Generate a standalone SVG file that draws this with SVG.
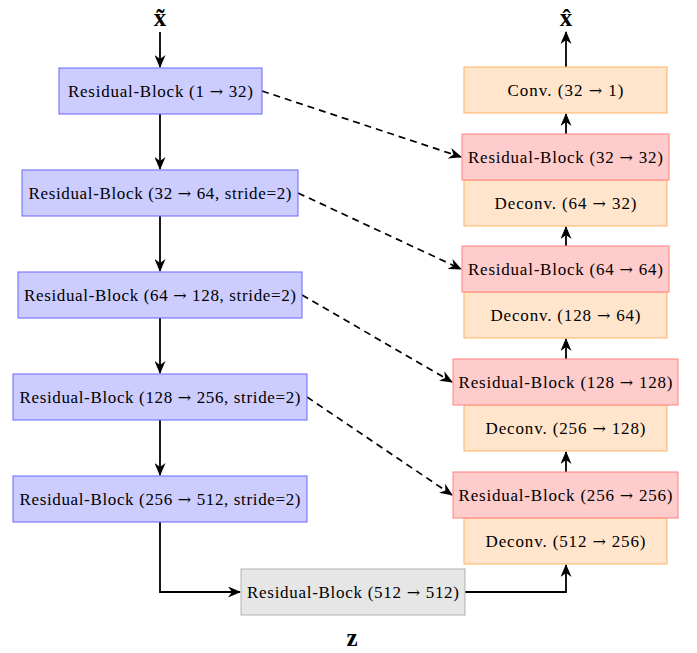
<svg xmlns="http://www.w3.org/2000/svg" width="697" height="653" viewBox="0 0 697 653">
<defs>
<style>
text{font-family:"Liberation Serif","Times New Roman",serif;font-size:17px;fill:#000;text-anchor:middle;dominant-baseline:central}
.ar{font-family:"DejaVu Serif",serif;font-size:16px}
.sym{font-size:25px;font-weight:bold}
.blue{fill:#ccccff;stroke:#6666ff;stroke-width:1}
.red{fill:#ffcccc;stroke:#ff8080;stroke-width:1}
.orange{fill:#ffe5cc;stroke:#ffb366;stroke-width:1}
.gray{fill:#e6e6e6;stroke:#b3b3b3;stroke-width:1}
.c{fill:none;stroke:#000;stroke-width:1.8}
.d{fill:none;stroke:#000;stroke-width:1.7;stroke-dasharray:7,5}
</style>
<marker id="ah" viewBox="0 0 13 11" refX="12" refY="5.5" markerWidth="13" markerHeight="11" markerUnits="userSpaceOnUse" orient="auto">
<path d="M0,0 L13,5.5 L0,11 L4,5.5 Z" fill="#000"/>
</marker>
</defs>
<rect width="697" height="653" fill="#fff"/>
<g id="connectors">
<line class="c" x1="160" y1="32" x2="160" y2="67" marker-end="url(#ah)"/>
<line class="c" x1="160" y1="114" x2="160" y2="169" marker-end="url(#ah)"/>
<line class="c" x1="160" y1="216" x2="160" y2="271" marker-end="url(#ah)"/>
<line class="c" x1="160" y1="318" x2="160" y2="373" marker-end="url(#ah)"/>
<line class="c" x1="160" y1="420" x2="160" y2="475" marker-end="url(#ah)"/>
<polyline class="c" points="160,522 160,592 240,592" marker-end="url(#ah)"/>
<polyline class="c" points="465,592 566,592 566,565" marker-end="url(#ah)"/>
<line class="c" x1="566" y1="472" x2="566" y2="452" marker-end="url(#ah)"/>
<line class="c" x1="566" y1="359" x2="566" y2="339" marker-end="url(#ah)"/>
<line class="c" x1="566" y1="246" x2="566" y2="227" marker-end="url(#ah)"/>
<line class="c" x1="566" y1="134" x2="566" y2="114" marker-end="url(#ah)"/>
<line class="c" x1="566" y1="67" x2="566" y2="32" marker-end="url(#ah)"/>
<line class="d" x1="262" y1="91" x2="461" y2="157" marker-end="url(#ah)"/>
<line class="d" x1="298" y1="193" x2="461" y2="269" marker-end="url(#ah)"/>
<line class="d" x1="302" y1="295" x2="452" y2="382" marker-end="url(#ah)"/>
<line class="d" x1="307" y1="397" x2="452" y2="495" marker-end="url(#ah)"/>
</g>
<g id="xin"><text class="sym" x="160" y="17">x̃</text></g>
<g id="xout"><text class="sym" x="566" y="17">x̂</text></g>
<g id="zlabel"><text class="sym" x="352" y="637">z</text></g>
<g id="enc1"><rect class="blue" x="59" y="68" width="203" height="46"/><text x="160.5" y="91" textLength="185">Residual-Block (1 <tspan class="ar">→</tspan> 32)</text></g>
<g id="enc2"><rect class="blue" x="22" y="170" width="276" height="46"/><text x="160" y="193" textLength="263">Residual-Block (32 <tspan class="ar">→</tspan> 64, stride=2)</text></g>
<g id="enc3"><rect class="blue" x="18" y="272" width="284" height="46"/><text x="160" y="295" textLength="272">Residual-Block (64 <tspan class="ar">→</tspan> 128, stride=2)</text></g>
<g id="enc4"><rect class="blue" x="13" y="374" width="294" height="46"/><text x="160" y="397" textLength="281">Residual-Block (128 <tspan class="ar">→</tspan> 256, stride=2)</text></g>
<g id="enc5"><rect class="blue" x="13" y="476" width="294" height="46"/><text x="160" y="499" textLength="281">Residual-Block (256 <tspan class="ar">→</tspan> 512, stride=2)</text></g>
<g id="bottleneck"><rect class="gray" x="241" y="569" width="224" height="46"/><text x="353" y="592" textLength="212">Residual-Block (512 <tspan class="ar">→</tspan> 512)</text></g>
<g id="conv"><rect class="orange" x="464" y="67" width="203" height="46"/><text x="565.5" y="90" textLength="116">Conv. (32 <tspan class="ar">→</tspan> 1)</text></g>
<g id="dec1d"><rect class="orange" x="464" y="180" width="203" height="46"/><text x="565.5" y="203" textLength="142">Deconv. (64 <tspan class="ar">→</tspan> 32)</text></g>
<g id="dec1r"><rect class="red" x="462" y="134" width="207" height="46"/><text x="565.5" y="157" textLength="195">Residual-Block (32 <tspan class="ar">→</tspan> 32)</text></g>
<g id="dec2d"><rect class="orange" x="464" y="292" width="203" height="46"/><text x="565.5" y="315" textLength="150">Deconv. (128 <tspan class="ar">→</tspan> 64)</text></g>
<g id="dec2r"><rect class="red" x="462" y="246" width="207" height="46"/><text x="565.5" y="269" textLength="195">Residual-Block (64 <tspan class="ar">→</tspan> 64)</text></g>
<g id="dec3d"><rect class="orange" x="464" y="405" width="203" height="46"/><text x="565.5" y="428" textLength="160">Deconv. (256 <tspan class="ar">→</tspan> 128)</text></g>
<g id="dec3r"><rect class="red" x="453" y="359" width="225" height="46"/><text x="565.5" y="382" textLength="214">Residual-Block (128 <tspan class="ar">→</tspan> 128)</text></g>
<g id="dec4d"><rect class="orange" x="464" y="518" width="203" height="46"/><text x="565.5" y="541" textLength="160">Deconv. (512 <tspan class="ar">→</tspan> 256)</text></g>
<g id="dec4r"><rect class="red" x="453" y="472" width="225" height="46"/><text x="565.5" y="495" textLength="214">Residual-Block (256 <tspan class="ar">→</tspan> 256)</text></g>
</svg>
